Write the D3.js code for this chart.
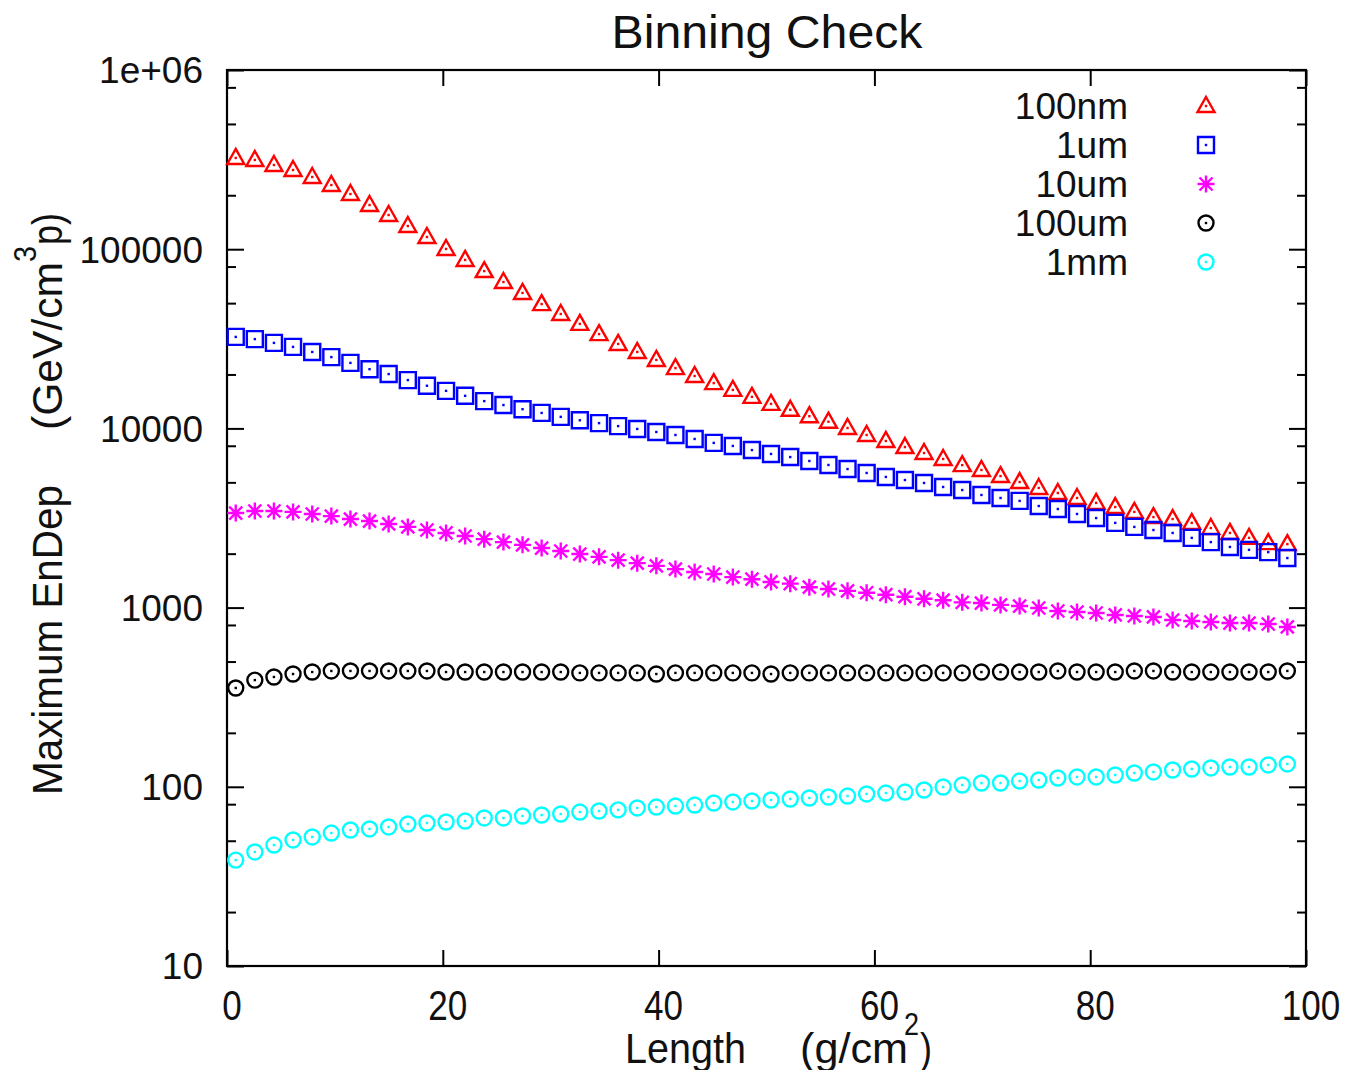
<!DOCTYPE html>
<html><head><meta charset="utf-8">
<script src="https://cdn.jsdelivr.net/npm/d3@7"></script>
<style>
body{margin:0;background:#fff;}
svg{display:block;}
text{font-family:"Liberation Sans",Arial,Helvetica,sans-serif;fill:#111;}
</style>
</head><body>
<svg id="c" width="1346" height="1070"></svg>
<script>
// ---------------- data ----------------
const xValues = [0.81,2.58,4.35,6.12,7.90,9.67,11.44,13.21,14.98,16.76,18.53,20.30,22.07,23.84,25.62,27.39,29.16,30.93,32.70,34.48,36.25,38.02,39.79,41.56,43.34,45.11,46.88,48.65,50.42,52.20,53.97,55.74,57.51,59.28,61.06,62.83,64.60,66.37,68.14,69.92,71.69,73.46,75.23,77.00,78.78,80.55,82.32,84.09,85.86,87.64,89.41,91.18,92.95,94.72,96.50,98.27];
const series100nm = [323000,314700,295000,276700,252900,228100,203200,176400,155200,134700,117000,100300,87100,75500,65600,57000,49400,43500,38300,33600,29600,26700,24100,21700,19600,17900,16400,15000,13700,12700,11700,10900,10050,9190,8510,7870,7290,6750,6240,5860,5420,5020,4650,4360,4090,3840,3640,3420,3200,3120,2970,2780,2610,2450,2290,2260];
const series1um = [32400,31500,30000,28500,26700,25000,23200,21400,20100,18600,17300,16200,15200,14200,13500,12800,12200,11600,11100,10700,10300,9930,9550,9190,8730,8300,7980,7570,7200,6920,6580,6250,5930,5640,5360,5150,4960,4710,4530,4250,4090,3940,3690,3550,3330,3160,2970,2820,2710,2610,2450,2320,2180,2100,2040,1890];
const series10um = [3370,3460,3460,3420,3330,3240,3120,3040,2930,2820,2710,2610,2510,2410,2320,2240,2150,2070,1990,1920,1840,1770,1710,1640,1580,1540,1480,1440,1390,1360,1300,1270,1240,1210,1180,1150,1120,1100,1070,1060,1035,1020,995,957,945,933,910,898,887,853,842,831,820,820,810,780];
const series100um = [356,394,410,426,437,443,443,443,443,443,443,437,437,437,437,437,437,437,432,432,432,432,426,432,432,432,432,432,426,432,432,432,432,432,432,432,432,432,432,437,437,437,437,443,437,437,437,443,443,437,437,437,437,437,437,443];
const series1mm = [39.0,43.3,47.3,50.5,52.5,55.2,57.4,58.2,59.7,62.0,62.8,63.6,64.4,67.0,67.0,68.7,69.6,70.5,72.3,73.3,74.3,76.2,77.1,78.1,79.1,81.2,82.3,83.3,84.4,85.5,86.6,87.7,88.8,91.2,92.3,93.5,96.0,99.7,102.3,105.0,105.0,107.7,109.1,112.0,113.5,113.5,116.4,119.4,121.0,124.1,125.7,127.4,129.0,129.0,132.4,134.1];
const seriesNames = ["100nm","1um","10um","100um","1mm"];
const yMajorTicks = [10,100,1000,10000,100000,1000000];
const yTickLabels = ["10","100","1000","10000","100000","1e+06"];
const yMinorTicks = [20,50,80,200,500,800,2000,5000,8000,20000,50000,80000,200000,500000,800000];
const xTicks = [0,20,40,60,80,100];
const xTickLabels = ["0","20","40","60","80","100"];
const titleText = "Binning Check";

// ---------------- styles ----------------
const seriesColors = ["#ff0000","#0000ff","#ff00ff","#000000","#00ffff"];
const seriesShapes = ["triangle","square","asterisk","circle","circle"];
const allSeries = [series100nm, series1um, series10um, series100um, series1mm];

const L = 227, R = 1306, T = 70, B = 966;
const x = d3.scaleLinear().domain([0,100]).range([L,R]);
const y = d3.scaleLog().domain([10,1e6]).range([B,T]);
const svg = d3.select("#c");

function markerPath(shape){
  const p = d3.path();
  if(shape==="triangle"){
    p.moveTo(0,-9); p.lineTo(8.5,6); p.lineTo(-8.5,6); p.closePath();
  } else if(shape==="square"){
    p.rect(-8,-8,16,16);
  } else if(shape==="circle"){
    p.arc(0,0,7.5,0,2*Math.PI); p.closePath();
  } else if(shape==="asterisk"){
    p.moveTo(-8.5,0); p.lineTo(8.5,0);
    p.moveTo(0,-8.5); p.lineTo(0,8.5);
    p.moveTo(-6.5,-6.5); p.lineTo(6.5,6.5);
    p.moveTo(-6.5,6.5); p.lineTo(6.5,-6.5);
  }
  return p.toString();
}
function drawMarker(sel, shape, color){
  sel.append("path").attr("d", markerPath(shape))
    .attr("fill","none").attr("stroke",color).attr("stroke-width",2.4);
  if(shape!=="asterisk"){
    sel.append("rect").attr("x",-1.2).attr("y",-1.2).attr("width",2.4).attr("height",2.4).attr("fill",color);
  }
}

// ---------------- axes / ticks ----------------
function styleAxis(g){
  g.select(".domain").remove();
  g.selectAll("line").attr("stroke","#000").attr("stroke-width",2);
}
svg.append("g").attr("transform",`translate(${L},0)`)
  .call(d3.axisLeft(y).tickValues(yMajorTicks).tickSize(-17).tickFormat("")).call(styleAxis);
svg.append("g").attr("transform",`translate(${L},0)`)
  .call(d3.axisLeft(y).tickValues(yMinorTicks).tickSize(-9).tickFormat("")).call(styleAxis);
svg.append("g").attr("transform",`translate(${R},0)`)
  .call(d3.axisRight(y).tickValues(yMajorTicks).tickSize(-17).tickFormat("")).call(styleAxis);
svg.append("g").attr("transform",`translate(${R},0)`)
  .call(d3.axisRight(y).tickValues(yMinorTicks).tickSize(-9).tickFormat("")).call(styleAxis);
svg.append("g").attr("transform",`translate(0,${B})`)
  .call(d3.axisBottom(x).tickValues(xTicks).tickSize(-16).tickFormat("")).call(styleAxis);
svg.append("g").attr("transform",`translate(0,${T})`)
  .call(d3.axisTop(x).tickValues(xTicks).tickSize(-16).tickFormat("")).call(styleAxis);

// frame
svg.append("rect").attr("x",L).attr("y",T).attr("width",R-L).attr("height",B-T)
  .attr("fill","none").attr("stroke","#000").attr("stroke-width",2.2);

// y tick labels
svg.append("g").selectAll("text").data(yMajorTicks).join("text")
  .attr("x",L-24).attr("y",d=>y(d)).attr("dy","0.36em")
  .attr("text-anchor","end").attr("font-size",37)
  .text((d,i)=>yTickLabels[i]);

// x tick labels
svg.append("g").selectAll("text").data(xTicks).join("text")
  .attr("x",d=>x(d)+5).attr("y",1020)
  .attr("text-anchor","middle").attr("font-size",42)
  .attr("textLength",(d,i)=>xTickLabels[i].length*19.5).attr("lengthAdjust","spacingAndGlyphs")
  .text((d,i)=>xTickLabels[i]);

// title
svg.append("text").attr("x",767).attr("y",48).attr("text-anchor","middle")
  .attr("font-size",47).attr("textLength",311).attr("lengthAdjust","spacingAndGlyphs").text(titleText);

// x axis label
const xl = svg.append("g");
xl.append("text").attr("x",625).attr("y",1063).attr("font-size",42)
  .attr("textLength",121).attr("lengthAdjust","spacingAndGlyphs").text("Length");
xl.append("text").attr("x",800).attr("y",1063).attr("font-size",42)
  .attr("textLength",108).attr("lengthAdjust","spacingAndGlyphs").text("(g/cm");
xl.append("text").attr("x",904).attr("y",1035).attr("font-size",32)
  .attr("textLength",15).attr("lengthAdjust","spacingAndGlyphs").text("2");
xl.append("text").attr("x",920).attr("y",1063).attr("font-size",42)
  .attr("textLength",12).attr("lengthAdjust","spacingAndGlyphs").text(")");

// y axis label
const yl = svg.append("g").attr("transform","translate(62,0) rotate(-90)");
yl.append("text").attr("x",-795).attr("y",0).attr("font-size",42)
  .attr("textLength",310).attr("lengthAdjust","spacingAndGlyphs").text("Maximum EnDep");
yl.append("text").attr("x",-430).attr("y",0).attr("font-size",42)
  .attr("textLength",168).attr("lengthAdjust","spacingAndGlyphs").text("(GeV/cm");
yl.append("text").attr("x",-262).attr("y",-26).attr("font-size",32)
  .attr("textLength",16).attr("lengthAdjust","spacingAndGlyphs").text("3");
yl.append("text").attr("x",-245).attr("y",0).attr("font-size",42)
  .attr("textLength",32).attr("lengthAdjust","spacingAndGlyphs").text("p)");

// ---------------- data points ----------------
allSeries.forEach((vals,si)=>{
  const g = svg.append("g");
  g.selectAll("g").data(d3.zip(xValues, vals)).join("g")
    .attr("transform",d=>`translate(${x(d[0])},${y(d[1])})`)
    .each(function(){ drawMarker(d3.select(this), seriesShapes[si], seriesColors[si]); });
});

// ---------------- legend ----------------
const leg = svg.append("g");
seriesNames.forEach((name,i)=>{
  const cy = 106 + i*39;
  leg.append("text").attr("x",1128).attr("y",cy).attr("dy","0.36em")
    .attr("text-anchor","end").attr("font-size",37).text(name);
  const m = leg.append("g").attr("transform",`translate(1206,${cy})`);
  drawMarker(m, seriesShapes[i], seriesColors[i]);
});
</script>
</body></html>
